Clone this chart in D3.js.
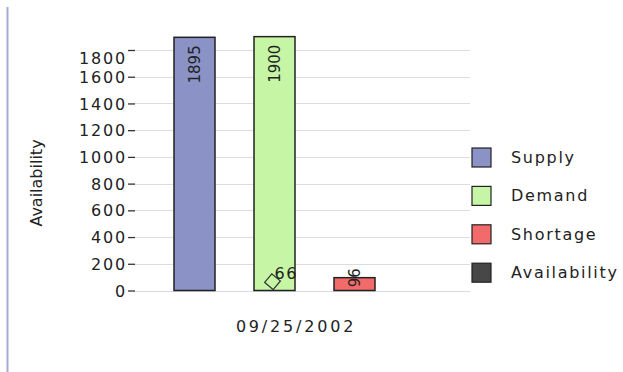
<!DOCTYPE html>
<html>
<head>
<meta charset="utf-8">
<script src="https://cdn.jsdelivr.net/npm/d3@7"></script>
<style>
  body { margin: 0; background: #fff; }
  text { font-family: "DejaVu Sans", sans-serif; fill: #222; }
</style>
</head>
<body>
<div id="chart"></div>
<script>
// data
const category = "09/25/2002";
const seriesNames = ["Supply", "Demand", "Shortage"];
const seriesValues = [1895, 1900, 96];
const availabilityValue = 66;
const legendNames = ["Supply", "Demand", "Shortage", "Availability"];
const legendColors = ["#8a92c6", "#c6f5a6", "#f26a6a", "#474747"];
const yTicks = [0, 200, 400, 600, 800, 1000, 1200, 1400, 1600, 1800];

const width = 623, height = 372;

const svg = d3.select('#chart')
    .append('svg')
    .attr('width', width)
    .attr('height', height);

// 左侧的竖线
svg.append('line')
    .attr('x1', 7.5).attr('x2', 7.5)
    .attr('y1', 7).attr('y2', height)
    .attr('stroke', '#a3a9d9')
    .attr('stroke-width', 2);

const xScale = d3.scaleBand().domain(seriesNames).range([154.5, 394.5])
    .paddingInner(0.4875).paddingOuter(0.24375);
const yScale = d3.scaleLinear().domain([0, 1800]).range([290.5, 50]);

// 网格线
svg.append('g').selectAll('line')
    .data(yTicks)
    .enter()
    .append('line')
    .attr('x1', 135).attr('x2', 470)
    .attr('y1', d => Math.round(yScale(d)) + 0.5)
    .attr('y2', d => Math.round(yScale(d)) + 0.5)
    .attr('stroke', '#d9dde3')
    .attr('stroke-width', 1.2);

// y 轴刻度
const yAxis = d3.axisLeft(yScale).tickValues(yTicks).tickSize(7).tickPadding(1).tickFormat(d => d);
const yAxisG = svg.append('g').attr('transform', 'translate(135,0)').call(yAxis);
yAxisG.select('.domain').remove();
yAxisG.selectAll('.tick line').attr('stroke', '#333').attr('stroke-width', 1.3);
yAxisG.selectAll('.tick text')
    .style('font-size', '16px')
    .style('letter-spacing', '1.8px')
    .attr('fill', '#222')
    .attr('dy', d => d === 1800 ? '0.85em' : '0.35em');
yAxisG.attr('font-family', null).attr('font-size', null);

// y 轴标题
svg.append('text')
    .attr('transform', 'translate(42,183) rotate(-90)')
    .attr('text-anchor', 'middle')
    .style('font-size', '16px')
    .text('Availability');

// 柱子
svg.append('g').selectAll('rect')
    .data(seriesValues)
    .enter()
    .append('rect')
    .attr('x', (_, i) => xScale(seriesNames[i]))
    .attr('y', d => yScale(d))
    .attr('width', xScale.bandwidth())
    .attr('height', d => yScale(0) - yScale(d))
    .attr('fill', (_, i) => legendColors[i])
    .attr('stroke', '#222')
    .attr('stroke-width', 1.5);

// 柱子上的数值 (旋转)
svg.append('g').selectAll('text')
    .data(seriesValues)
    .enter()
    .append('text')
    .attr('transform', (d, i) => {
        const cx = xScale(seriesNames[i]) + xScale.bandwidth() / 2;
        const y = d > 500 ? yScale(d) + 8 : yScale(d);
        return `translate(${cx + 5},${y}) rotate(-90)`;
    })
    .attr('text-anchor', d => d > 500 ? 'end' : 'middle')
    .style('font-size', '15px')
    .text(d => d);

// Availability 菱形标记
const ax = xScale('Demand') + xScale.bandwidth() / 2 - 2;
const ay = yScale(availabilityValue);
svg.append('path')
    .attr('d', d3.symbol().type(d3.symbolSquare).size(125)())
    .attr('transform', `translate(${ax},${ay}) rotate(40)`)
    .attr('fill', 'none')
    .attr('stroke', '#333')
    .attr('stroke-width', 1.2);
svg.append('text')
    .attr('x', ax + 2)
    .attr('y', ay - 3)
    .style('font-size', '16px')
    .style('letter-spacing', '1.5px')
    .text(availabilityValue);

// x 轴分类标签
svg.append('text')
    .attr('x', 296)
    .attr('y', 332)
    .attr('text-anchor', 'middle')
    .style('font-size', '16px')
    .style('letter-spacing', '2.8px')
    .text(category);

// 图例
const legend = svg.append('g').attr('transform', 'translate(472,148)');
legendNames.forEach((name, i) => {
    const g = legend.append('g').attr('transform', `translate(0,${i * 38.4})`);
    g.append('rect')
        .attr('width', 19).attr('height', 19)
        .attr('fill', legendColors[i])
        .attr('stroke', '#222')
        .attr('stroke-width', 1.2);
    g.append('text')
        .attr('x', 39)
        .attr('y', 15)
        .style('font-size', '16px')
        .style('letter-spacing', '1.7px')
        .text(name);
});
</script>
</body>
</html>
